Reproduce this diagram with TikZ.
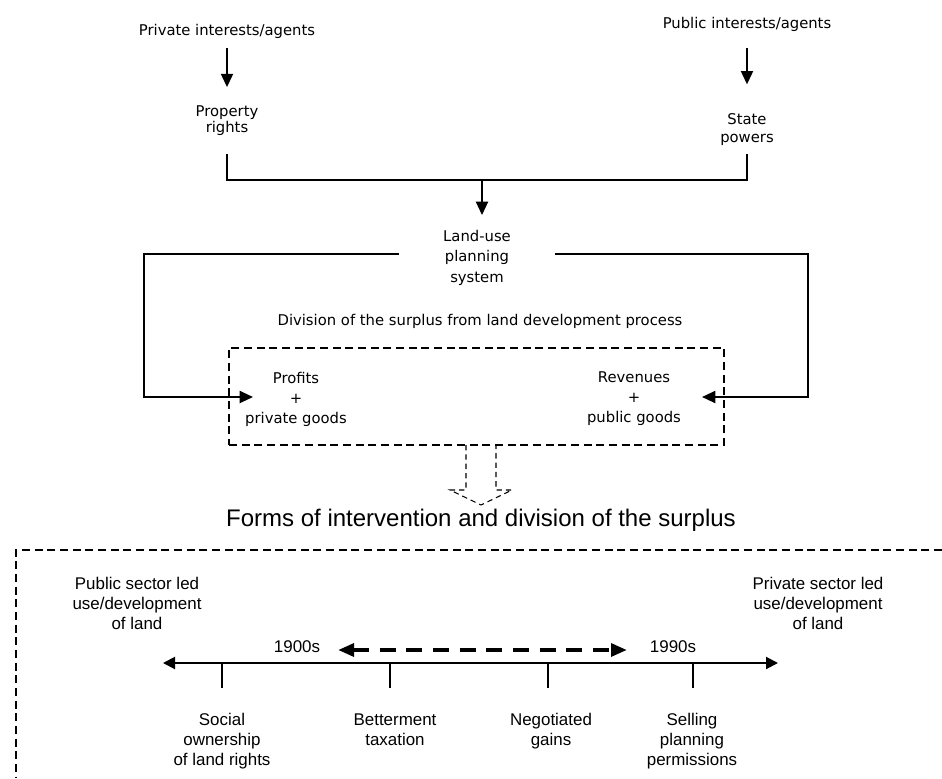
\documentclass[tikz,border=0pt]{standalone}
\usepackage{fontspec}
\setmainfont{Liberation Sans}
\newfontfamily\tahomafont{DejaVu Sans}
\usetikzlibrary{arrows.meta, positioning}
\tikzstyle{topLabel} = [font=\tahomafont\fontsize{11.1}{15.4}\selectfont, align=center, inner sep=0pt]
\tikzstyle{lowLabel} = [font=\fontsize{12.7}{15}\selectfont, align=center, inner sep=0pt]
\tikzstyle{flowLine} = [line width=1.5pt]
\tikzstyle{flowArrow} = [line width=1.5pt, -{Triangle[length=10pt,width=9pt]}]
\tikzstyle{boxDash} = [line width=1pt, dash pattern=on 6pt off 3.5pt]
\tikzstyle{hollowDash} = [line width=0.8pt, dash pattern=on 4pt off 3pt]
\tikzstyle{periodArrow} = [line width=3pt, dash pattern=on 12pt off 8pt,
   {Triangle[length=12pt,width=9.5pt]}-{Triangle[length=12pt,width=9.5pt]}]
\tikzstyle{axisArrow} = [line width=1.5pt,
   {Triangle[length=9pt,width=9pt]}-{Triangle[length=9pt,width=9pt]}]
\tikzstyle{tickLine} = [line width=0.8pt]

\begin{document}
\begin{tikzpicture}[x=0.75pt, y=-0.75pt]
  \useasboundingbox (0,0) rectangle (942,778);
  % agents and what they hold
  \node[topLabel] (privAg) at (227,31) {Private interests/agents};
  \node[topLabel] (pubAg) at (747,24.5) {Public interests/agents};
  \node[topLabel] (propR) at (227,121) {Property\\[-3.4pt]rights};
  \node[topLabel] (stateP) at (747,130) {State\\[-1.9pt]powers};
  \draw[flowArrow, shorten <=7pt, shorten >=14pt] (privAg) -- (propR);
  \draw[flowArrow, shorten <=12pt, shorten >=22pt] (pubAg) -- (stateP);
  \coordinate (merge) at (482,180);
  \draw[flowLine, shorten <=13pt] (propR.south) |- (merge);
  \draw[flowLine, shorten <=6pt] (stateP.south) |- (merge);
  % planning system
  \node[topLabel, minimum width=117pt] (landUse) at (477,257.7) {Land-use\\planning\\system};
  \draw[flowArrow, shorten >=11pt] (merge) -- (landUse.north -| merge);
  \node[topLabel] (division) at (480,321) {Division of the surplus from land development process};
  \node[draw, boxDash, minimum width=371.25pt, minimum height=72.75pt] (surplusBox) at (476.5,396.5) {};
  \node[topLabel, font=\tahomafont\fontsize{11.1}{15}\selectfont] (profits) at (296,399) {Profits\\+\\private goods};
  \node[topLabel, font=\tahomafont\fontsize{11.1}{15}\selectfont] (revenues) at (634,399) {Revenues\\+\\public goods};
  \coordinate (profIn) at (253,397);
  \coordinate (revIn) at (702,397);
  \draw[flowArrow] ([yshift=3pt]landUse.west) -- ++(-255,0) |- (profIn);
  \draw[flowArrow] ([yshift=3pt]landUse.east) -- ++(253,0) |- (revIn);
  % hollow arrow down to the forms
  \coordinate (drop) at (481,445);
  \draw[hollowDash] (drop) ++(-15,0) -- ++(0,45) -- ++(-16,0) -- ++(31,15)
    -- ++(31,-15) -- ++(-16,0) -- ++(0,-45);
  \node[lowLabel, font=\fontsize{18}{20}\selectfont] (forms) at (481,520.7) {Forms of intervention and division of the surplus};
  \draw[boxDash] (942,550) -| (16,778);
  % spectrum of intervention
  \node[lowLabel] (pubLed) at (137,603.8) {Public sector led\\use/development\\of land};
  \node[lowLabel] (privLed) at (818,603.8) {Private sector led\\use/development\\of land};
  \coordinate (tlL) at (163,663);
  \coordinate (tlR) at (778,663);
  \draw[axisArrow] (tlL) -- (tlR);
  \node[lowLabel] (y1900) at (297,647) {1900s};
  \node[lowLabel] (y1990) at (673,647) {1990s};
  \coordinate (perL) at (338,650);
  \coordinate (perR) at (627,650);
  \draw[periodArrow] (perL) -- (perR);
  \foreach \tx in {222,390,548,693}
    \draw[tickLine] (\tx,663) -- (\tx,688);
  \node[lowLabel] (social) at (222,741.6) {Social\\ownership\\of land rights};
  \node[lowLabel] (better) at (395,729.8) {Betterment\\taxation};
  \node[lowLabel] (negot) at (551,731.6) {Negotiated\\gains};
  \node[lowLabel] (selling) at (692,741.6) {Selling\\planning\\permissions};
\end{tikzpicture}
\end{document}
